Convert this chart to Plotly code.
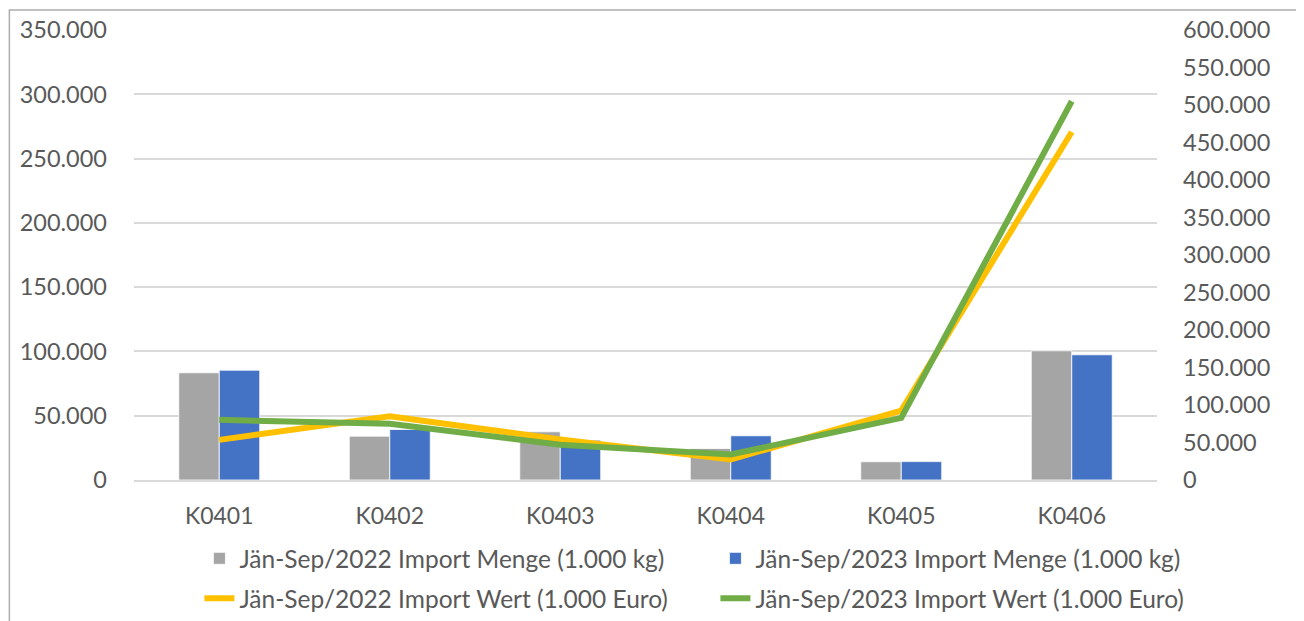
import plotly.graph_objects as go

categories = ["K0401", "K0402", "K0403", "K0404", "K0405", "K0406"]
menge_2022 = [83400, 34100, 37500, 24500, 14200, 100500]
menge_2023 = [85400, 39300, 31000, 34400, 14300, 97400]
wert_2022 = [53500, 85000, 54000, 27300, 92500, 464000]
wert_2023 = [80200, 75000, 47000, 34000, 82800, 505000]

name_m22 = "Jän-Sep/2022 Import Menge (1.000 kg)"
name_m23 = "Jän-Sep/2023 Import Menge (1.000 kg)"
name_w22 = "Jän-Sep/2022 Import Wert (1.000 Euro)"
name_w23 = "Jän-Sep/2023 Import Wert (1.000 Euro)"

left_ticks = list(range(0, 350001, 50000))
right_ticks = list(range(0, 600001, 50000))

FONT = "Lato"
TXT = "#595959"
GRID = "#D9D9D9"

fig = go.Figure()
fig.add_trace(go.Bar(x=categories, y=menge_2022, name=name_m22,
                     marker=dict(color="#A5A5A5", line=dict(color="white", width=0.8)),
                     legend="legend"))
fig.add_trace(go.Bar(x=categories, y=menge_2023, name=name_m23,
                     marker=dict(color="#4472C4", line=dict(color="white", width=0.8)),
                     legend="legend"))
fig.add_trace(go.Scatter(x=categories, y=wert_2022, name=name_w22, mode="lines",
                         line=dict(color="#FFC000", width=6), yaxis="y2",
                         legend="legend2"))
fig.add_trace(go.Scatter(x=categories, y=wert_2023, name=name_w23, mode="lines",
                         line=dict(color="#70AD47", width=6), yaxis="y2",
                         legend="legend2"))

# page has an 8px body margin; figure coordinates below are page minus 8
W, H = 1296, 613
ml, mt = 125.5, 22
plot_r, plot_b = 1149.5, 472.5
mr, mb = W - plot_r, H - plot_b
pw = plot_r - ml
ph = plot_b - mt

def px_x(x):
    return (x - ml) / pw

def px_y(y):
    return (plot_b - y) / ph

fig.update_layout(
    width=W, height=H,
    margin=dict(l=ml, r=mr, t=mt, b=mb, autoexpand=False),
    paper_bgcolor="white", plot_bgcolor="white",
    font=dict(family=FONT, size=23, color=TXT),
    separators=",.",
    barmode="group", bargap=0.525, bargroupgap=0,
    showlegend=True,
    xaxis=dict(showgrid=False, showline=True, linecolor=GRID, linewidth=2,
               ticks="", tickfont=dict(size=23, color=TXT),
               ticklabelstandoff=14),
    yaxis=dict(range=[0, 350000], tickvals=left_ticks, tickformat=",d",
               showgrid=True, gridcolor=GRID, gridwidth=1.5,
               zeroline=False, showline=False, ticks="",
               ticklabelstandoff=26, tickfont=dict(size=23.5, color=TXT)),
    yaxis2=dict(range=[0, 600000], tickvals=right_ticks, tickformat=",d",
                overlaying="y", side="right", showgrid=False,
                zeroline=False, showline=False, ticks="",
                ticklabelstandoff=25, tickfont=dict(size=23.5, color=TXT)),
    legend=dict(orientation="h", x=px_x(1224), xanchor="right",
                y=px_y(551), yanchor="middle", entrywidth=471,
                font=dict(size=24.5, color=TXT), bgcolor="rgba(0,0,0,0)"),
    legend2=dict(orientation="h", x=px_x(1224), xanchor="right",
                 y=px_y(591), yanchor="middle", entrywidth=471,
                 font=dict(size=24.5, color=TXT), bgcolor="rgba(0,0,0,0)"),
    shapes=[dict(type="rect", xref="paper", yref="paper",
                 x0=px_x(0.75), x1=px_x(1290), y0=px_y(640), y1=px_y(2),
                 line=dict(color="#ADADAD", width=1.5), layer="below")],
)

fig.write_html("out.html")
